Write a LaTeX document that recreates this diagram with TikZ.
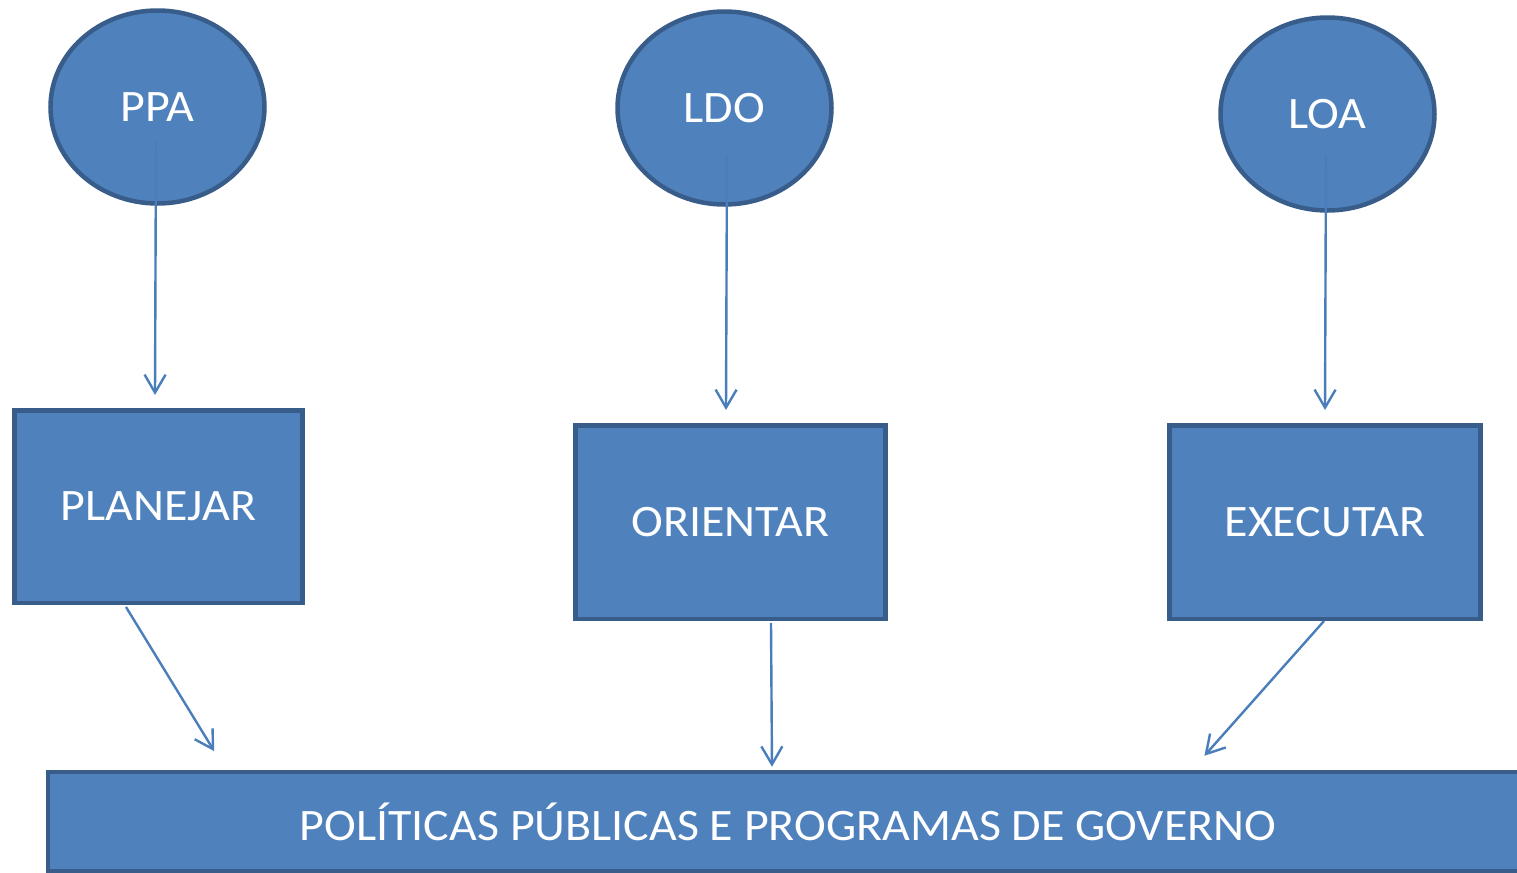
\documentclass[tikz,border=0pt]{standalone}
\usepackage{fontspec}
\setmainfont{Carlito}[FakeStretch=1.065]
\usetikzlibrary{shapes.geometric, arrows.meta, calc}
\definecolor{boxfill}{HTML}{4F81BD}
\definecolor{boxline}{HTML}{385D8A}
\definecolor{linkcolor}{HTML}{4A7EBB}
\tikzset{lei/.style={ellipse, draw=boxline, fill=boxfill, line width=2.25pt, minimum width=107pt, minimum height=96.5pt, inner sep=0pt, text=white}}
\tikzset{acao/.style={rectangle, draw=boxline, fill=boxfill, line width=2.25pt, inner sep=0pt, text=white}}
\tikzset{politica/.style={rectangle, draw=boxline, fill=boxfill, line width=2.25pt, minimum width=740pt, minimum height=49.5pt, inner sep=0pt, text=white}}
\tikzset{link/.style={draw=linkcolor, line width=1.2pt, -{Straight Barb[length=9pt, width=10.5pt]}}}

\begin{document}
\begin{tikzpicture}[x=0.5pt, y=-0.5pt, font=\fontsize{22.5}{27}\selectfont]
\useasboundingbox (0,0) rectangle (1517,873);

\node[lei] (ppa) at (157.5,107) {PPA};
\node[lei] (ldo) at (724.5,108) {LDO};
\node[lei] (loa) at (1327.5,114) {LOA};

\node[acao, minimum width=144pt, minimum height=96.25pt] (planejar) at (158.5,506.5) {PLANEJAR};
\node[acao, minimum width=155pt, minimum height=96.75pt] (orientar) at (730.5,522) {ORIENTAR};
\node[acao, minimum width=155.5pt, minimum height=96.75pt] (executar) at (1325,522) {EXECUTAR};

\node[politica] (politicas) at (788,821.5) {POLÍTICAS PÚBLICAS E PROGRAMAS DE GOVERNO};

\draw[link] ($(ppa.center)+(-1.5,35)$) -- ($(planejar.north)+(-3.5,-13)$);
\draw[link] ($(ldo.center)+(2.5,47)$) -- ($(orientar.north)+(-4.5,-13)$);
\draw[link] ($(loa.center)+(-1.5,41)$) -- ($(executar.north)+(0,-13)$);

\draw[link] ($(planejar.south)+(-32.5,2)$) -- ($(politicas.north west)+(168.5,-18.6)$);
\draw[link] ($(orientar.south)+(40.5,2)$) -- ($(politicas.north)+(-16,-3)$);
\draw[link] ($(executar.south)+(-1,0)$) -- ($(politicas.north)+(416.4,-14)$);
\end{tikzpicture}
\end{document}
